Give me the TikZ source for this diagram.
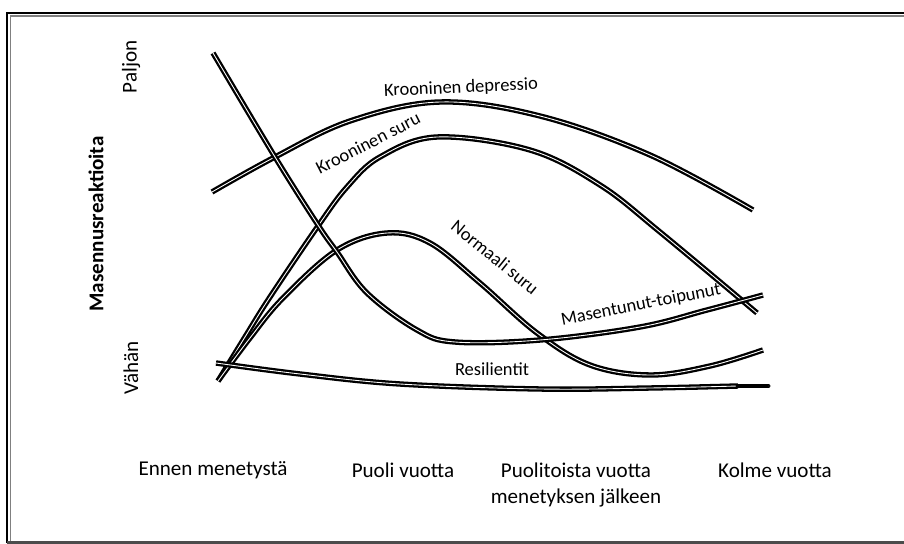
\documentclass[tikz,border=0pt]{standalone}
\usepackage{fontspec}
\setmainfont{Carlito}
\tikzset{
  kayra/.style={line width=1.3pt,double=white,double distance=0.5pt},
  nimi/.style={inner sep=0pt,font=\fontsize{10.5}{12}\selectfont},
  akseli/.style={inner sep=0pt,font=\fontsize{12}{14}\selectfont}
}
\begin{document}
\begin{tikzpicture}[x=0.02cm,y=-0.02cm]
   \useasboundingbox (0,0) rectangle (904,544);
   \draw [line width=1.6pt] (7,543)-- (7,13)-- (920,13);
   \draw [line width=0.7pt,gray] (10.5,541)-- (10.5,16)-- (920,16);
   \draw [line width=1.6pt,gray!60!black] (7,542.5)-- (920,542.5);
   \draw [kayra] plot[smooth,tension=0.6] coordinates {(212,192) (275,157) (350,121) (440,102) (540,116) (650,155) (753,210)};
   \draw [kayra] plot[smooth,tension=0.6] coordinates {(218,381) (245,337) (270,297) (318,226) (347,187) (380,157) (437,137) (530,150) (600,185) (660,232) (757,313)};
   \draw [kayra] plot[smooth,tension=0.6] coordinates {(218,381) (250,338) (283,298) (337,250) (387,233) (430,243) (480,283) (537,333) (590,365) (650,375) (710,366) (763,350)};
   \draw [kayra] plot[smooth,tension=0.6] coordinates {(213,53) (275,157) (318,225) (337,252) (367,293) (417,330) (455,342) (540,340) (640,327) (707,310) (763,295)};
   \draw [kayra] plot[smooth,tension=0.6] coordinates {(216,363) (300,374) (400,384) (540,389) (650,388) (738,386)};
   \draw [line width=2.8pt,line cap=round] (738,386)-- (768,386);
   \draw [fill=white,line width=0.4pt] (769,386) circle (0.8);
   \draw (461,88) node[nimi,rotate=2.5] (depressio) {Krooninen depressio};
   \draw (368,143) node[nimi,rotate=27] (suru) {Krooninen suru};
   \draw (495,257) node[nimi,rotate=-39] (normaali) {Normaali suru};
   \draw (641,305) node[nimi,rotate=11] (toipunut) {Masentunut-toipunut};
   \draw (492,369) node[nimi] (resilientit) {Resilientit};
   \draw (131,67) node[akseli,rotate=90] (paljon) {Paljon};
   \draw (131,368) node[akseli,rotate=90] (vahan) {Vähän};
   \draw (96,224) node[akseli,rotate=90,font=\fontsize{12}{14}\selectfont\bfseries] (masennus) {Masennusreaktioita};
   \draw (213,470) node[akseli] (ennen) {Ennen menetystä};
   \draw (403,470) node[akseli] (puoli) {Puoli vuotta};
   \draw (576,470) node[akseli] (puolitoista) {Puolitoista vuotta};
   \draw (576,498) node[akseli] (jalkeen) {menetyksen jälkeen};
   \draw (775,470) node[akseli] (kolme) {Kolme vuotta};
\end{tikzpicture}
\end{document}
